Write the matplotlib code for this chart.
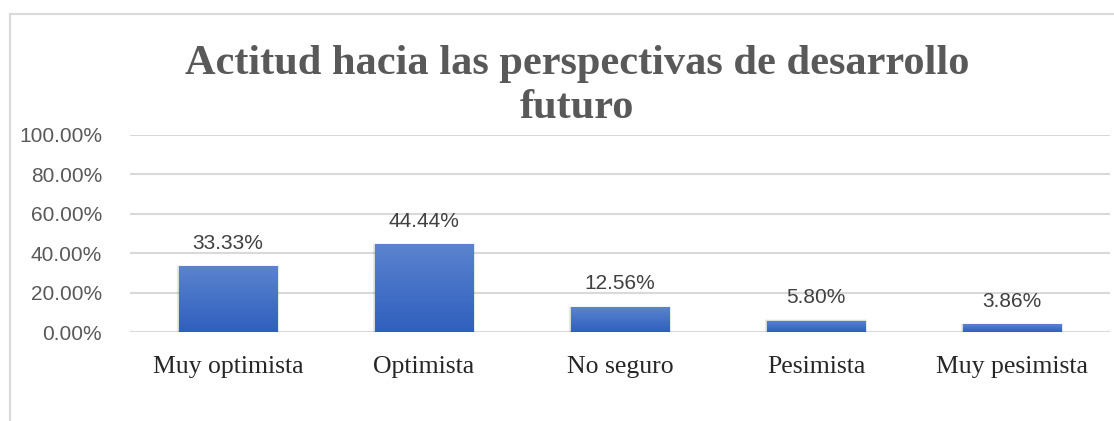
import numpy as np
import matplotlib.pyplot as plt
from matplotlib.lines import Line2D
from matplotlib.colors import LinearSegmentedColormap

categories = ['Muy optimista', 'Optimista', 'No seguro', 'Pesimista', 'Muy pesimista']
values = [33.33, 44.44, 12.56, 5.80, 3.86]
yticks = [0, 20, 40, 60, 80, 100]

fig = plt.figure(figsize=(11.14, 4.21), dpi=100)
ax = fig.add_axes([130 / 1114, 1 - 332 / 421, 980 / 1114, 197 / 421])

x = np.arange(len(categories))
bars = ax.bar(x, values, width=0.505, color='none', edgecolor='none', zorder=3)

# vertical gradient fill + soft shadow for each bar
cmap = LinearSegmentedColormap.from_list('g', ['#2f5fbe', '#5b84cf'])
grad = np.linspace(0, 1, 256).reshape(-1, 1)
for b in bars:
    x0, w, h = b.get_x(), b.get_width(), b.get_height()
    for k, a in [(0.02, 0.04), (0.012, 0.05), (0.006, 0.06)]:
        ax.bar(x0 + w / 2, h + 1.2 * k / 0.02, width=w + k, bottom=-0.6 * k / 0.02,
               color='#000000', alpha=a, zorder=2, edgecolor='none')
    im = ax.imshow(grad, cmap=cmap, origin='lower', aspect='auto',
                   extent=[x0, x0 + w, 0, h], zorder=3)
    im.set_clip_path(b)

for xi, v in zip(x, values):
    ax.text(xi, v + 7, f'{v:.2f}%', ha='center', va='bottom', fontsize=15,
            color='#404040', family='Liberation Sans')

ax.set_xlim(-0.5, len(categories) - 0.5)
ax.set_ylim(0, 100)
ax.set_yticks(yticks)
ax.set_yticklabels([f'{t:.2f}%' for t in yticks], fontsize=15, color='#595959',
                   family='Liberation Sans')
ax.set_xticks(x)
ax.set_xticklabels(categories, fontsize=18.5, color='#262626', family='Liberation Serif')
ax.tick_params(axis='both', length=0)
ax.tick_params(axis='y', pad=20)
ax.tick_params(axis='x', pad=17)
ax.grid(axis='y', color='#d9d9d9', linewidth=1.5, zorder=0)
ax.set_axisbelow(True)
for s in ax.spines.values():
    s.set_visible(False)

fig.text(577 / 1114, 1 - 86 / 421, 'Actitud hacia las perspectivas de desarrollo\nfuturo',
         ha='center', va='center', fontsize=30.5, fontweight='bold', color='#595959',
         family='Liberation Serif', linespacing=1.2)

# chart area border
fig.add_artist(Line2D([10 / 1114, 1], [1 - 14 / 421] * 2, color='#d9d9d9', lw=1.5))
fig.add_artist(Line2D([10 / 1114] * 2, [0, 1 - 14 / 421], color='#d9d9d9', lw=1.5))

fig.savefig('out.png', dpi=100)
